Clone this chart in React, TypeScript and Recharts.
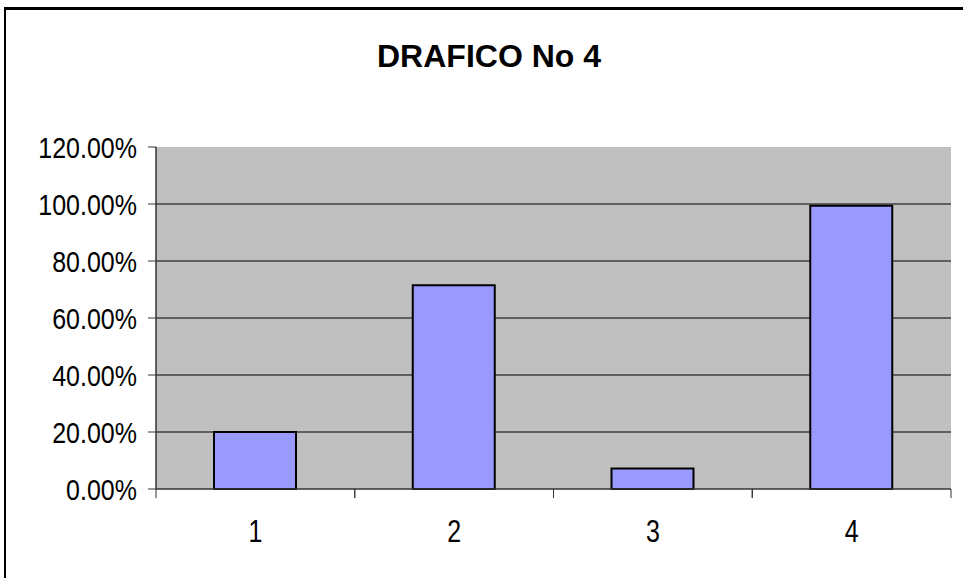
// App.tsx
// Gráfico de barras "DRAFICO No 4"

import { BarChart, Bar, XAxis, YAxis, CartesianGrid } from 'recharts'

const categories = ['1', '2', '3', '4']
const values = [20, 71.5, 7.2, 99.4]
const yTicks = [0, 20, 40, 60, 80, 100, 120]
const gridValues = [20, 40, 60, 80, 100]

const FONT = '"Liberation Sans", Arial, sans-serif'

// etiqueta del eje X con marcas en los bordes de cada categoría
function CategoryTick(props: any) {
  const { x, y, payload } = props
  const half = payload?.offset ?? 0
  return (
    <g>
      <line x1={x - half} y1={y} x2={x - half} y2={y + 9} stroke="#333" />
      <line x1={x + half} y1={y} x2={x + half} y2={y + 9} stroke="#333" />
      <text
        transform={`translate(${x},${y + 42}) scale(1,1.22)`}
        dy="0.355em"
        textAnchor="middle"
        fill="#000"
        fontSize={25}
        fontFamily={FONT}
      >
        {payload.value}
      </text>
    </g>
  )
}

function PercentTick(props: any) {
  const { x, y, payload } = props
  return (
    <text
      transform={`translate(${x},${y}) scale(1,1.2)`}
      dy="0.355em"
      textAnchor="end"
      fill="#000"
      fontSize={25}
      fontFamily={FONT}
    >
      {`${Number(payload.value).toFixed(2)}%`}
    </text>
  )
}

export default function App() {
  const data = categories.map((c, i) => ({ name: c, value: values[i] }))

  return (
    <div
      style={{
        position: 'absolute',
        left: 0,
        top: 0,
        width: 963,
        height: 578,
        overflow: 'hidden',
        background: '#fff',
        fontFamily: FONT,
      }}
    >
      <div
        style={{
          position: 'absolute',
          left: 4,
          top: 7,
          width: 1000,
          height: 600,
          borderLeft: '2px solid #000',
          borderTop: '3px solid #000',
        }}
      />
      <div
        style={{
          position: 'absolute',
          left: 0,
          top: 40,
          width: 978,
          textAlign: 'center',
          fontSize: 32,
          lineHeight: '32px',
          fontWeight: 'bold',
          color: '#000',
        }}
      >
        DRAFICO No 4
      </div>
      <div style={{ position: 'absolute', left: 0, top: 0 }}>
        <BarChart
          width={963}
          height={578}
          data={data}
          margin={{ top: 147, right: 12, bottom: 29, left: 0 }}
        >
          <CartesianGrid
            vertical={false}
            stroke="#000"
            strokeOpacity={1}
            fill="#C0C0C0"
            fillOpacity={1}
            horizontalValues={gridValues}
          />
          <XAxis
            xAxisId="t"
            orientation="top"
            dataKey="name"
            height={0}
            tick={false}
            tickLine={false}
            axisLine={{ stroke: '#808080', strokeWidth: 1.5 }}
          />
          <XAxis
            dataKey="name"
            height={60}
            axisLine={{ stroke: '#333', strokeWidth: 1.5 }}
            tickLine={false}
            tickSize={0}
            tickMargin={0}
            tick={<CategoryTick />}
          />
          <YAxis
            width={156}
            domain={[0, 120]}
            ticks={yTicks}
            interval={0}
            tickSize={8}
            tickMargin={11}
            axisLine={{ stroke: '#333', strokeWidth: 1.5 }}
            tickLine={{ stroke: '#333' }}
            tick={<PercentTick />}
          />
          <YAxis
            yAxisId="r"
            orientation="right"
            width={0}
            domain={[0, 120]}
            tick={false}
            tickLine={false}
            axisLine={{ stroke: '#808080', strokeWidth: 1.5 }}
          />
          <Bar
            dataKey="value"
            barSize={82}
            fill="#9999FF"
            stroke="#000"
            strokeWidth={2}
            isAnimationActive={false}
          />
        </BarChart>
      </div>
    </div>
  )
}
